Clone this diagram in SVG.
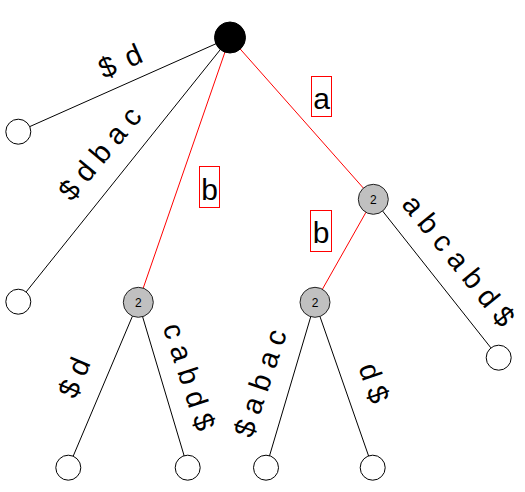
<svg xmlns="http://www.w3.org/2000/svg" width="525" height="492" viewBox="0 0 525 492">
<style>
.e{stroke:#000;stroke-width:1;fill:none}
.r{stroke:#f00;stroke-width:1;fill:none}
.leaf{fill:#fff;stroke:#000;stroke-width:1}
.int{fill:#c0c0c0;stroke:#222;stroke-width:1}
.root{fill:#000;stroke:#000;stroke-width:1}
.lbl{font-family:"Liberation Sans",Arial,sans-serif;font-size:29px;fill:#000;text-anchor:middle}
.box{fill:#fff;stroke:#f00;stroke-width:1}
.bl{font-family:"Liberation Sans",Arial,sans-serif;font-size:30px;fill:#000;text-anchor:middle}
.num{font-family:"Liberation Sans",Arial,sans-serif;font-size:12px;fill:#000;text-anchor:middle}
</style>
<rect width="525" height="492" fill="#fff"/>
<g id="connectors">
<line class="e" x1="230" y1="37.5" x2="18.3" y2="131.7"/>
<line class="e" x1="230" y1="37.5" x2="18.3" y2="301.7"/>
<line class="r" x1="230" y1="37.5" x2="138.3" y2="302.3"/>
<line class="r" x1="230" y1="37.5" x2="373.3" y2="199.3"/>
<line class="r" x1="373.3" y1="199.3" x2="315" y2="302.3"/>
<line class="e" x1="373.3" y1="199.3" x2="498.7" y2="357.7"/>
<line class="e" x1="138.3" y1="302.3" x2="68.3" y2="467.7"/>
<line class="e" x1="138.3" y1="302.3" x2="187.7" y2="467.7"/>
<line class="e" x1="315" y1="302.3" x2="266" y2="467.7"/>
<line class="e" x1="315" y1="302.3" x2="372.7" y2="467.7"/>
</g>
<g id="edge-labels">
<text class="lbl" transform="translate(121.5,61.5) rotate(-24)" y="9" letter-spacing="2">$ d</text>
<text class="lbl" transform="translate(100.5,154) rotate(-50)" y="9">$ d b a c</text>
<text class="lbl" transform="translate(458,261) rotate(51)" y="9">a b c a b d $</text>
<text class="lbl" transform="translate(75,378) rotate(-67)" y="9">$ d</text>
<text class="lbl" transform="translate(188.3,377) rotate(72)" y="9">c a b d $</text>
<text class="lbl" transform="translate(261,383.3) rotate(-71.5)" y="9">$ a b a c</text>
<text class="lbl" transform="translate(373.3,383.3) rotate(71)" y="9">d $</text>
<g id="box-b1"><rect class="box" x="199.5" y="166.5" width="20" height="41"/><text class="bl" x="209.5" y="199.5">b</text></g>
<g id="box-a"><rect class="box" x="311.5" y="76.5" width="20" height="40"/><text class="bl" x="321.5" y="109">a</text></g>
<g id="box-b2"><rect class="box" x="310.5" y="210.5" width="21" height="41"/><text class="bl" x="321" y="243">b</text></g>
</g>
<g id="root"><circle class="root" cx="230" cy="37.5" r="15.5"/></g>
<g id="leaf1"><circle class="leaf" cx="18.3" cy="131.7" r="12.5"/></g>
<g id="leaf2"><circle class="leaf" cx="18.3" cy="301.7" r="12.5"/></g>
<g id="nodeB"><circle class="int" cx="138.3" cy="302.3" r="15"/><text class="num" x="138.3" y="306.5">2</text></g>
<g id="nodeA"><circle class="int" cx="373.3" cy="199.3" r="15"/><text class="num" x="373.3" y="203.5">2</text></g>
<g id="nodeAB"><circle class="int" cx="315" cy="302.3" r="15"/><text class="num" x="315" y="306.5">2</text></g>
<g id="leaf3"><circle class="leaf" cx="68.3" cy="467.7" r="12.5"/></g>
<g id="leaf4"><circle class="leaf" cx="187.7" cy="467.7" r="12.5"/></g>
<g id="leaf5"><circle class="leaf" cx="266" cy="467.7" r="12.5"/></g>
<g id="leaf6"><circle class="leaf" cx="372.7" cy="467.7" r="12.5"/></g>
<g id="leaf7"><circle class="leaf" cx="498.7" cy="357.7" r="12.5"/></g>
</svg>
